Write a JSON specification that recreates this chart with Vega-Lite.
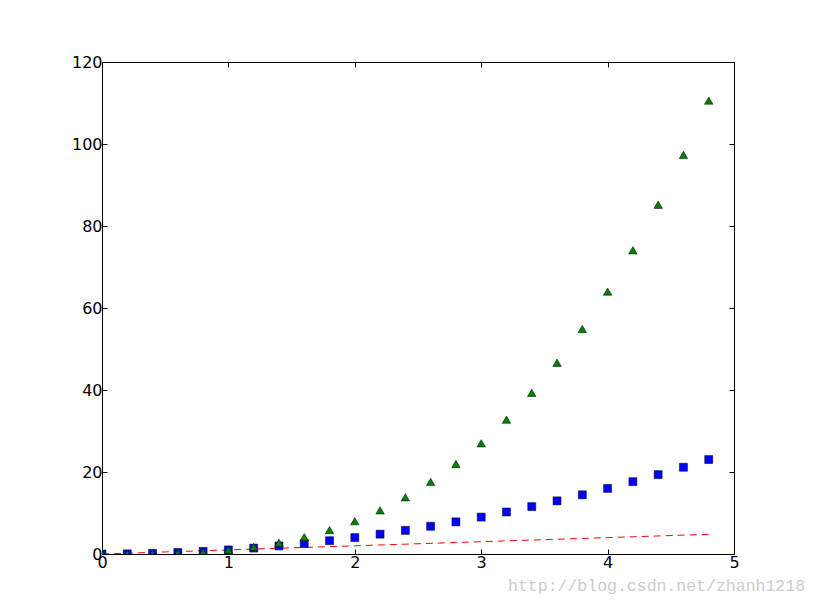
{
  "$schema": "https://vega.github.io/schema/vega-lite/v6.json",
  "autosize": "none",
  "width": 632,
  "height": 492,
  "padding": {"left": 102, "top": 62, "right": 81, "bottom": 61},
  "background": "white",
  "config": {
    "font": "DejaVu Sans",
    "view": {"stroke": "black", "strokeWidth": 1},
    "axis": {
      "grid": false,
      "domain": false,
      "tickSize": -5,
      "tickColor": "black",
      "labelFont": "DejaVu Sans",
      "labelFontSize": 16,
      "labelColor": "black",
      "labelPadding": 5,
      "labelFlush": false,
      "labelOverlap": false,
      "title": null
    }
  },
  "title": {
    "text": "http://blog.csdn.net/zhanh1218",
    "orient": "bottom",
    "anchor": "end",
    "font": "Liberation Mono",
    "fontSize": 16.5,
    "fontWeight": "normal",
    "color": "#cccccc",
    "dx": 66,
    "offset": 8
  },
  "data": {"values": [
    {"t": 0.0, "a": 0.0, "b": 0.0, "c": 0.0},
    {"t": 0.2, "a": 0.2, "b": 0.04, "c": 0.008},
    {"t": 0.4, "a": 0.4, "b": 0.16, "c": 0.064},
    {"t": 0.6, "a": 0.6, "b": 0.36, "c": 0.216},
    {"t": 0.8, "a": 0.8, "b": 0.64, "c": 0.512},
    {"t": 1.0, "a": 1.0, "b": 1.0, "c": 1.0},
    {"t": 1.2, "a": 1.2, "b": 1.44, "c": 1.728},
    {"t": 1.4, "a": 1.4, "b": 1.96, "c": 2.744},
    {"t": 1.6, "a": 1.6, "b": 2.56, "c": 4.096},
    {"t": 1.8, "a": 1.8, "b": 3.24, "c": 5.832},
    {"t": 2.0, "a": 2.0, "b": 4.0, "c": 8.0},
    {"t": 2.2, "a": 2.2, "b": 4.84, "c": 10.648},
    {"t": 2.4, "a": 2.4, "b": 5.76, "c": 13.824},
    {"t": 2.6, "a": 2.6, "b": 6.76, "c": 17.576},
    {"t": 2.8, "a": 2.8, "b": 7.84, "c": 21.952},
    {"t": 3.0, "a": 3.0, "b": 9.0, "c": 27.0},
    {"t": 3.2, "a": 3.2, "b": 10.24, "c": 32.768},
    {"t": 3.4, "a": 3.4, "b": 11.56, "c": 39.304},
    {"t": 3.6, "a": 3.6, "b": 12.96, "c": 46.656},
    {"t": 3.8, "a": 3.8, "b": 14.44, "c": 54.872},
    {"t": 4.0, "a": 4.0, "b": 16.0, "c": 64.0},
    {"t": 4.2, "a": 4.2, "b": 17.64, "c": 74.088},
    {"t": 4.4, "a": 4.4, "b": 19.36, "c": 85.184},
    {"t": 4.6, "a": 4.6, "b": 21.16, "c": 97.336},
    {"t": 4.8, "a": 4.8, "b": 23.04, "c": 110.592}
  ]},
  "layer": [
    {
      "mark": {"type": "line", "color": "#ff0000", "strokeWidth": 1, "strokeDash": [7, 5], "clip": true},
      "encoding": {
        "x": {"field": "t", "type": "quantitative", "scale": {"domain": [0, 5], "nice": false, "zero": false}, "axis": {"orient": "bottom", "values": [0, 1, 2, 3, 4, 5], "format": "d"}},
        "y": {"field": "a", "type": "quantitative", "scale": {"domain": [0, 120], "nice": false}, "axis": {"orient": "left", "values": [0, 20, 40, 60, 80, 100, 120], "format": "d"}}
      }
    },
    {
      "mark": {"type": "point", "shape": "square", "filled": true, "color": "#0000ff", "stroke": "black", "strokeWidth": 0.5, "size": 64, "opacity": 1, "clip": true},
      "encoding": {
        "x": {"field": "t", "type": "quantitative", "axis": {"orient": "top", "values": [0, 1, 2, 3, 4, 5], "labels": false}},
        "y": {"field": "b", "type": "quantitative", "axis": {"orient": "right", "values": [0, 20, 40, 60, 80, 100, 120], "labels": false}}
      }
    },
    {
      "mark": {"type": "point", "shape": "triangle-up", "filled": true, "color": "#008000", "stroke": "black", "strokeWidth": 0.5, "size": 72, "opacity": 1, "clip": true},
      "encoding": {
        "x": {"field": "t", "type": "quantitative", "axis": null},
        "y": {"field": "c", "type": "quantitative", "axis": null}
      }
    }
  ]
}
